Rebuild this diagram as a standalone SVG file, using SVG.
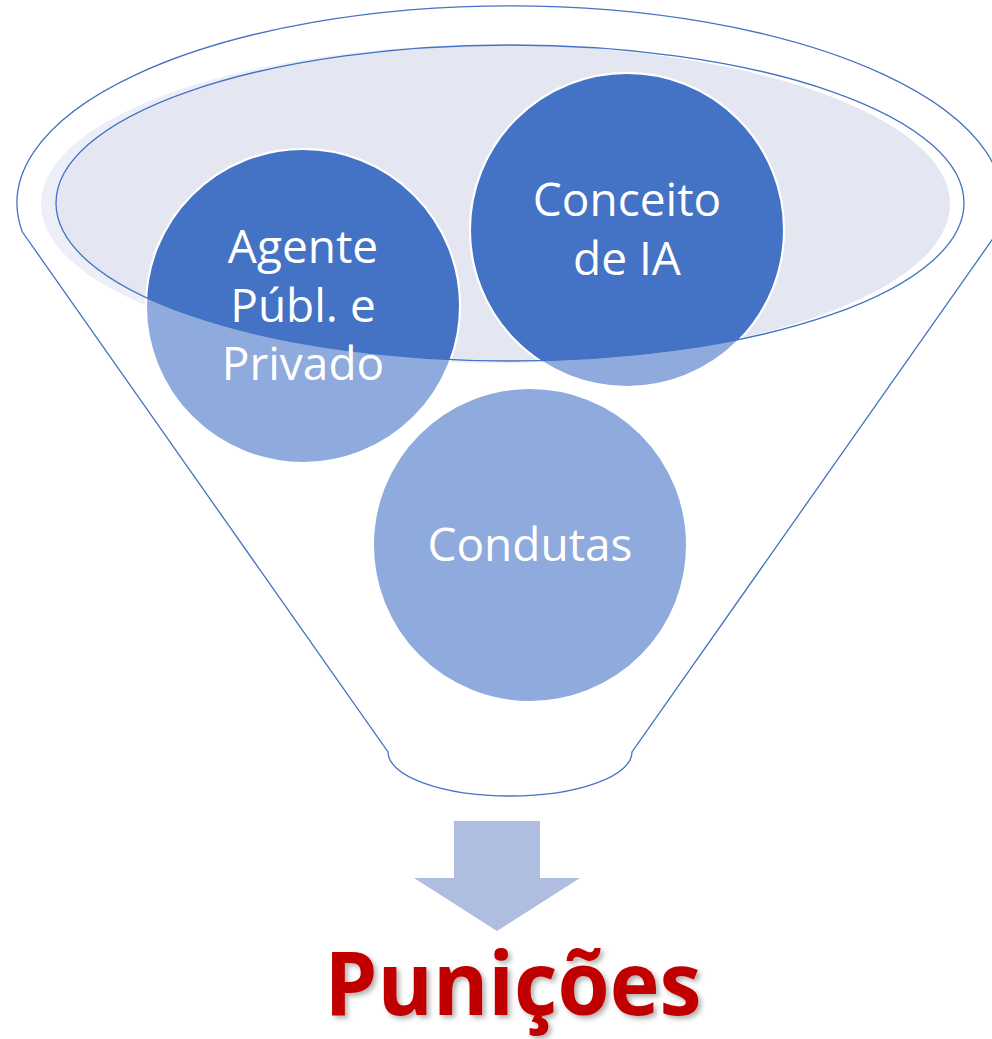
<svg xmlns="http://www.w3.org/2000/svg" width="992" height="1039" viewBox="0 0 992 1039">
  <defs>
    <style>
      .line { fill: none; stroke: #4472C4; stroke-width: 1.3; }
      .circle-light { fill: #8FAADC; stroke: #FFFFFF; stroke-width: 2; }
      .circle-dark { fill: #4472C4; stroke: #FFFFFF; stroke-width: 2; }
      .label { font-family: "Open Sans", "Liberation Sans", sans-serif; font-size: 46px; fill: #FFFFFF; text-anchor: middle; }
      .result { font-family: "Open Sans", "Liberation Sans", sans-serif; font-weight: bold; font-size: 87px; fill: #C00000; text-anchor: middle; }
    </style>
    <clipPath id="innerClip">
      <ellipse cx="510" cy="203" rx="454" ry="158"/>
    </clipPath>
    <clipPath id="fillClip">
      <ellipse cx="495.5" cy="204" rx="454.5" ry="159"/>
    </clipPath>
    <filter id="shadow" x="-10%" y="-20%" width="120%" height="140%">
      <feDropShadow dx="3" dy="3" stdDeviation="2.5" flood-color="#000000" flood-opacity="0.3"/>
    </filter>
  </defs>

  <g id="funnel">
    <path class="line" d="M 22.4,232 A 493 197 0 1 1 997.6,232 L 632,752 A 122 44 0 0 1 388,752 Z"/>
    <ellipse cx="495.5" cy="204" rx="454.5" ry="159" fill="#ECEFF7"/>
    <ellipse cx="510" cy="203" rx="454" ry="158" fill="#E4E7F2" clip-path="url(#fillClip)"/>
  </g>

  <g id="node-agente">
    <circle class="circle-light" cx="303" cy="306" r="157"/>
    <circle class="circle-dark" cx="303" cy="306" r="157" clip-path="url(#innerClip)"/>
  </g>
  <g id="node-conceito">
    <circle class="circle-light" cx="627" cy="230" r="157"/>
    <circle class="circle-dark" cx="627" cy="230" r="157" clip-path="url(#innerClip)"/>
  </g>
  <g id="node-condutas">
    <circle class="circle-light" cx="530" cy="545" r="157"/>
    <text class="label" x="530" y="561">Condutas</text>
  </g>

  <g id="funnel-rim">
    <ellipse class="line" cx="510" cy="203" rx="454" ry="158"/>
  </g>

  <g id="labels">
    <text class="label" x="303" y="263">Agente</text>
    <text class="label" x="303" y="322">Públ. e</text>
    <text class="label" x="303" y="380">Privado</text>
    <text class="label" x="627" y="216">Conceito</text>
    <text class="label" x="627" y="275">de IA</text>
  </g>

  <g id="connectors">
    <polygon points="454,821 540,821 540,878 580,878 497,931 414,878 454,878" fill="#AFBDE0"/>
  </g>

  <g id="node-punicoes">
    <text class="result" x="513" y="1015" textLength="377" lengthAdjust="spacingAndGlyphs" filter="url(#shadow)">Punições</text>
  </g>
</svg>
